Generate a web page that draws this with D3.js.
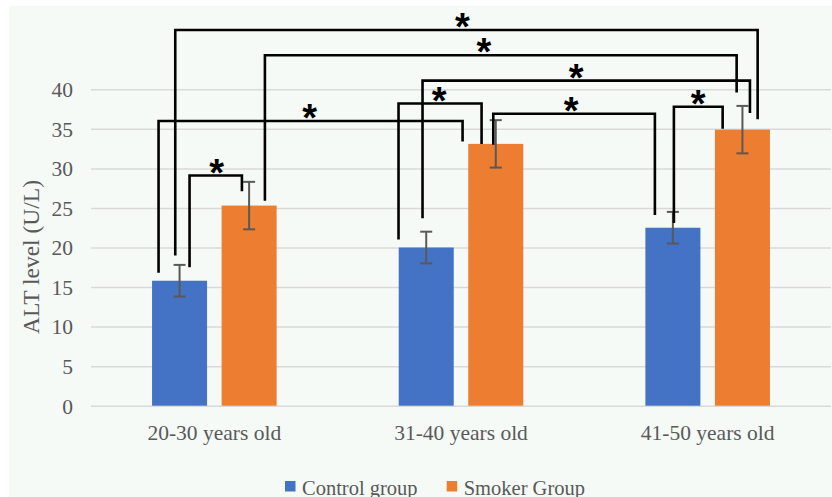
<!DOCTYPE html>
<html>
<head>
<meta charset="utf-8">
<script src="https://cdn.jsdelivr.net/npm/d3@7"></script>
<style>
  html, body { margin: 0; padding: 0; background: #ffffff; }
  svg { display: block; }
</style>
</head>
<body>
<svg id="chart" width="832" height="497"></svg>
<script>
// ALT level by age group, control vs smoker (mean ± error)
const categories = ["20-30 years old", "31-40 years old", "41-50 years old"];
const seriesNames = ["Control group", "Smoker Group"];
const controlValues = [15.8, 20.0, 22.5];
const smokerValues = [25.3, 33.1, 34.9];
const controlErrors = [2.0, 2.0, 2.0];
const smokerErrors = [3.0, 3.0, 3.0];
const yTicks = [0, 5, 10, 15, 20, 25, 30, 35, 40];
const yTitle = "ALT level (U/L)";

// Significance brackets: which bars they join, the level of the bar
// across the top, and where each leg stops (all in U/L).
const brackets = [
  { from: ["20-30 years old", "Control group"], to: ["41-50 years old", "Smoker Group"], level: 47.5, fromEnd: 19.0, toEnd: 36.2, label: "*" },
  { from: ["20-30 years old", "Smoker Group"], to: ["41-50 years old", "Smoker Group"], level: 44.3, fromEnd: 25.9, toEnd: 39.6, label: "*" },
  { from: ["31-40 years old", "Control group"], to: ["41-50 years old", "Smoker Group"], level: 41.1, fromEnd: 23.7, toEnd: 37.0, label: "*" },
  { from: ["31-40 years old", "Control group"], to: ["31-40 years old", "Smoker Group"], level: 38.2, fromEnd: 21.0, toEnd: 33.1, label: "*" },
  { from: ["20-30 years old", "Control group"], to: ["31-40 years old", "Smoker Group"], level: 36.0, fromEnd: 16.8, toEnd: 33.4, label: "*" },
  { from: ["31-40 years old", "Smoker Group"], to: ["41-50 years old", "Control group"], level: 36.9, fromEnd: 33.0, toEnd: 24.1, label: "*" },
  { from: ["41-50 years old", "Control group"], to: ["41-50 years old", "Smoker Group"], level: 37.8, fromEnd: 23.1, toEnd: 35.0, label: "*" },
  { from: ["20-30 years old", "Control group"], to: ["20-30 years old", "Smoker Group"], level: 29.1, fromEnd: 17.5, toEnd: 27.1, label: "*" }
];

const colors = { "Control group": "#4472c4", "Smoker Group": "#ed7d31" };
const textColor = "#595959";
const serif = "Liberation Serif";

const svg = d3.select("#chart");

// plot area background
svg.append("rect")
  .attr("x", 9).attr("y", 6).attr("width", 823).attr("height", 491)
  .attr("fill", "#f5faf7");

const x0 = d3.scaleBand().domain(categories).range([91, 831]).paddingInner(0.495).paddingOuter(0.2475);
const x1 = d3.scaleBand().domain(seriesNames).range([0, x0.bandwidth()]).paddingInner(0.209).paddingOuter(0);
const y = d3.scaleLinear().domain([0, 40]).range([405.7, 89.3]);

// gridlines + tick labels via axis
const yAxis = d3.axisLeft(y).tickValues(yTicks).tickSize(-(831 - 91)).tickPadding(18).tickFormat(d3.format("d"));
const gy = svg.append("g").attr("transform", "translate(91,0)").call(yAxis);
gy.attr("font-family", null);
gy.select(".domain").remove();
gy.selectAll(".tick line").attr("stroke", "#d9d9d9").attr("stroke-width", 1.5);
gy.selectAll(".tick text")
  .attr("fill", textColor).style("font-family", serif).style("font-size", "21.5px")
  .attr("dy", "0.34em");

// y-axis title
svg.append("text")
  .attr("transform", "translate(39,257) rotate(-90)")
  .attr("text-anchor", "middle")
  .attr("fill", textColor).style("font-family", serif).style("font-size", "23.5px")
  .text(yTitle);

// x-axis category labels
const xAxis = d3.axisBottom(x0).tickSize(0).tickPadding(19);
const gx = svg.append("g").attr("transform", "translate(0,405.7)").call(xAxis);
gx.attr("font-family", null);
gx.select(".domain").remove();
gx.selectAll(".tick text")
  .attr("fill", textColor).style("font-family", serif).style("font-size", "21.5px");

// bars
const rows = categories.map((c, i) => ({
  category: c,
  items: [
    { series: "Control group", value: controlValues[i], err: controlErrors[i] },
    { series: "Smoker Group", value: smokerValues[i], err: smokerErrors[i] }
  ]
}));

const groups = svg.append("g").selectAll("g").data(rows).join("g")
  .attr("transform", d => `translate(${x0(d.category)},0)`);

groups.selectAll("rect").data(d => d.items).join("rect")
  .attr("x", d => x1(d.series))
  .attr("y", d => y(d.value))
  .attr("width", x1.bandwidth())
  .attr("height", d => y(0) - y(d.value))
  .attr("fill", d => colors[d.series]);

// error bars
const capHalf = 6;
const eb = groups.selectAll("g.err").data(d => d.items).join("g").attr("class", "err")
  .attr("stroke", "#595959").attr("stroke-width", 2);
const cx = d => x1(d.series) + x1.bandwidth() / 2;
eb.append("line")
  .attr("x1", cx).attr("x2", cx)
  .attr("y1", d => y(d.value + d.err)).attr("y2", d => y(d.value - d.err));
eb.append("line")
  .attr("x1", d => cx(d) - capHalf).attr("x2", d => cx(d) + capHalf)
  .attr("y1", d => y(d.value + d.err)).attr("y2", d => y(d.value + d.err));
eb.append("line")
  .attr("x1", d => cx(d) - capHalf).attr("x2", d => cx(d) + capHalf)
  .attr("y1", d => y(d.value - d.err)).attr("y2", d => y(d.value - d.err));

// significance brackets
const barCenter = ([cat, ser]) => x0(cat) + x1(ser) + x1.bandwidth() / 2;
// horizontal shift of each leg from its bar's centre, and of each star from the bracket's midpoint (px)
const legShift = [[-4.3, 15.2], [15.8, -5.8], [-3.7, 7.5], [-27.7, -14.2], [-21, -33.2], [-2.5, -18], [1, -19.8], [10, -7.2]];
const starShift = [-4, -17, -10, -1, -1, -3, 0, 1];

const gb = svg.append("g");
brackets.forEach((b, i) => {
  const xa = barCenter(b.from) + legShift[i][0];
  const xb = barCenter(b.to) + legShift[i][1];
  const path = d3.path();
  path.moveTo(xa, y(b.fromEnd));
  path.lineTo(xa, y(b.level));
  path.lineTo(xb, y(b.level));
  path.lineTo(xb, y(b.toEnd));
  gb.append("path").attr("d", path.toString())
    .attr("fill", "none").attr("stroke", "#000").attr("stroke-width", 2.6)
    .attr("stroke-linejoin", "miter");
  gb.append("text")
    .attr("x", (xa + xb) / 2 + starShift[i])
    .attr("y", y(b.level) + 10)
    .attr("text-anchor", "middle")
    .style("font-family", "Liberation Sans")
    .style("font-weight", "bold")
    .style("font-size", "38px")
    .attr("fill", "#000")
    .text(b.label);
});

// legend
const legend = svg.append("g").attr("transform", "translate(285,481)");
const li = legend.selectAll("g").data(seriesNames).join("g")
  .attr("transform", (d, i) => `translate(${i * 161.7},0)`);
li.append("rect").attr("width", 10.5).attr("height", 10.5).attr("fill", d => colors[d]);
li.append("text").attr("x", 17).attr("y", 13.5)
  .attr("fill", textColor).style("font-family", serif).style("font-size", "20.5px")
  .text(d => d);
</script>
</body>
</html>
